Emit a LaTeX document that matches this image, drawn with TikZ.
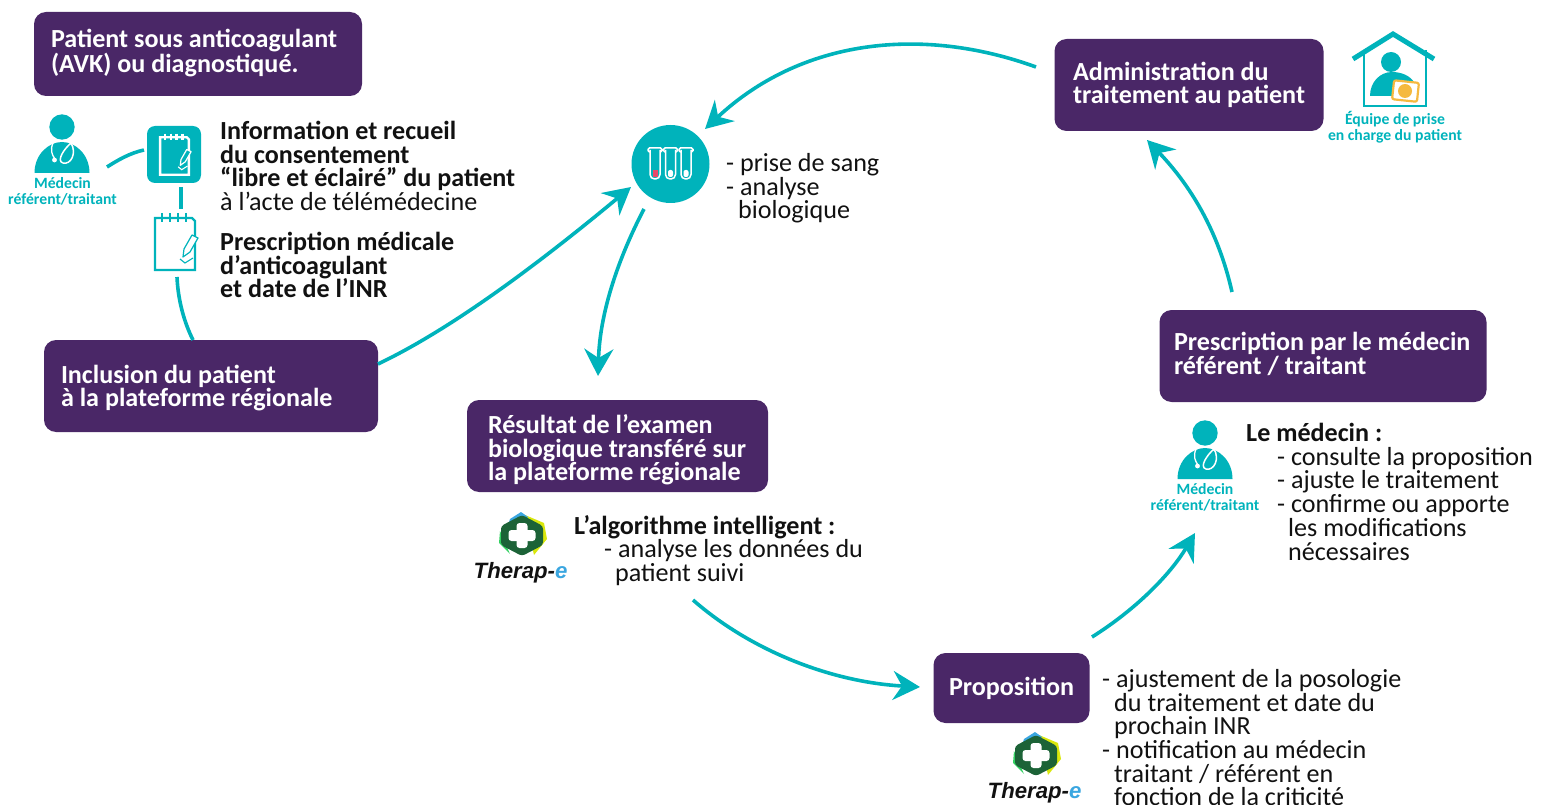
\documentclass[tikz,border=0pt]{standalone}
\usepackage{fontspec}
\setmainfont{Carlito}
\newfontfamily\logofont{Liberation Sans}
\usetikzlibrary{arrows.meta}
\definecolor{vio}{HTML}{4A2767}
\definecolor{tl}{HTML}{00B3BB}
\definecolor{ink}{HTML}{111111}
\definecolor{orng}{HTML}{F5B93F}
\definecolor{rose}{HTML}{E8486A}
\definecolor{logogreen}{HTML}{1C6337}
\definecolor{logoblue}{HTML}{3AA6E0}
\newcommand{\fs}{\fontsize{26.1}{23.7}\selectfont}
\newcommand{\padshape}[2]{%
  \draw[#1,line width=2.4pt,line join=miter] (-20,-26) -- (17,-26) -- (20,-23) -- (20,26) -- (-20,26) -- cycle;
  \foreach \k in {-13,-5,3,11} \draw[#1,line width=2.4pt] (\k,-31) -- (\k,-22);
  \draw[#1,fill=#2,line width=1.2pt,line join=round] (8,13) -- (9,5) -- (17,-9) -- (23,-6) -- (15,8) -- cycle;
  \draw[#1,line width=1.1pt] (5,15) -- (10,19) -- (18,14);
}
\tikzset{
  x=1pt,y=-1pt,
  box/.style={fill=vio,rounded corners=12pt,text=white,font=\fs\bfseries,align=flush left,inner xsep=0pt,inner ysep=0pt},
  txt/.style={anchor=north west,text=ink,font=\fs,align=left,inner sep=0pt},
  iconcap/.style={text=tl,font=\fontsize{15.7}{16}\selectfont\bfseries,align=center,inner sep=0pt},
  flow/.style={tl,line width=3.6pt,-{Stealth[length=27pt,width=29pt,inset=9pt]}},
  link/.style={tl,line width=3.6pt},
  doctor/.pic={
    \fill[tl] (0,0) circle (12.7);
    \fill[tl] (-27.5,46) .. controls (-27.5,27) and (-13,15) .. (0,15) .. controls (13,15) and (27.5,27) .. (27.5,46) -- cycle;
    \draw[white,line width=1.3pt] (-9,16) .. controls (-12,23) and (-10,28) .. (-7,32);
    \draw[white,line width=1.5pt] (9,16) .. controls (2,22) and (-6,34) .. (1,36) .. controls (9,38) and (15,26) .. (9,16);
    \fill[white] (-7.5,33) circle (2.4);
  },
  padlight/.pic={\padshape{white}{tl}},
  padteal/.pic={\padshape{tl}{white}},
  therape/.pic={
    \fill[yellow!85!green] (3,-21) -- (22,-13) -- (25,3) -- (12,19) -- cycle;
    \fill[logoblue] (-12,-17) -- (-1,-24) -- (6,-19) -- (-20,10) -- cycle;
    \fill[green!55!teal!80] (-22,-5) -- (-12,18) -- (-23,7) -- cycle;
    \fill[logogreen,rounded corners=3pt] (0,-21) -- (21,-10) -- (21,9) -- (0,20) -- (-21,9) -- (-21,-10) -- cycle;
    \fill[white,rounded corners=3pt] (-5.5,-13) rectangle (5.5,12);
    \fill[white,rounded corners=3pt] (-13.5,-6) rectangle (13.5,5);
    \node[inner sep=0pt,anchor=base west,font=\logofont\fontsize{22.2}{22}\selectfont\bfseries\itshape,text=ink] at (-48.5,42) {Therap-\textcolor{logoblue}{e}};
  },
}
\begin{document}
\begin{tikzpicture}
\useasboundingbox (0,0) rectangle (1542,805);

% boxes
\node[box,minimum width=328pt,minimum height=84pt,text width=294pt] (patient) at (198,54) {Patient sous anticoagulant\\(AVK) ou diagnostiqué.\par\vspace{2pt}};
\node[box,minimum width=334pt,minimum height=92pt,text width=300pt] (inclusion) at (211,386) {Inclusion du patient\\à la plateforme régionale\par\vspace{-4pt}};
\node[box,minimum width=301pt,minimum height=92pt,text width=259pt] (resultat) at (617.5,446) {Résultat de l’examen\\biologique transféré sur\\la plateforme régionale\par\vspace{-8pt}};
\node[box,minimum width=156pt,minimum height=70pt,text width=125pt] (proposition) at (1011.5,688) {Proposition};
\node[box,minimum width=327pt,minimum height=92pt,text width=298pt] (prescription) at (1323,356) {Prescription par le médecin\\référent / traitant\par\vspace{4pt}};
\node[box,minimum width=269pt,minimum height=92pt,text width=232pt] (administration) at (1189,85) {Administration du\\traitement au patient};

% free text
\node[txt] (consent) at (220,121) {\textbf{Information et recueil}\\\textbf{du consentement}\\\textbf{“libre et éclairé” du patient}\\à l’acte de télémédecine};
\node[txt] (presc) at (220,232) {\textbf{Prescription médicale}\\\textbf{d’anticoagulant}\\\textbf{et date de l’INR}};
\node[txt] (sang) at (726,153) {- prise de sang\\- analyse\\\hspace*{12pt}biologique};
\node[txt] (algo) at (574,515) {\textbf{L’algorithme intelligent :}\\\hspace*{30pt}- analyse les données du\\\hspace*{41pt}patient suivi};
\node[txt] (medtxt) at (1246,423) {\textbf{Le médecin :}\\\hspace*{31pt}- consulte la proposition\\\hspace*{31pt}- ajuste le traitement\\\hspace*{31pt}- confirme ou apporte\\\hspace*{42pt}les modifications\\\hspace*{42pt}nécessaires};
\node[txt] (proptxt) at (1102,669) {- ajustement de la posologie\\\hspace*{12pt}du traitement et date du\\\hspace*{12pt}prochain INR\\- notification au médecin\\\hspace*{12pt}traitant / référent en\\\hspace*{12pt}fonction de la criticité};

% doctors
\pic at (62,127) {doctor};
\node[iconcap] (doca) at (62.5,191) {Médecin\\référent/traitant};
\pic at (1205,433) {doctor};
\node[iconcap] (docb) at (1205,497) {Médecin\\référent/traitant};

% consent icons
\node[fill=tl,rounded corners=8pt,minimum width=54pt,minimum height=57pt,inner sep=0pt] (padA) at (174,154.5) {};
\pic[scale=0.72] at (174.5,156) {padlight};
\node[minimum width=44pt,minimum height=60pt,inner sep=0pt] (padB) at (175,244) {};
\pic at (175,244) {padteal};

% tubes
\node[fill=tl,circle,minimum size=78pt,inner sep=0pt] (tubes) at (670.5,164) {};
\foreach \tx in {655,670.5,686} {
  \draw[white,line width=1.5pt,rounded corners=1.5pt] (\tx-5,152) -- (\tx-7,152) -- (\tx-7,148) -- (\tx+7,148) -- (\tx+7,152) -- (\tx+5,152);
  \draw[white,line width=1.5pt,rounded corners=4.5pt] (\tx-5,150) -- (\tx-5,179) -- (\tx+5,179) -- (\tx+5,150);
}
\fill[white,rounded corners=2pt] (668,170) rectangle (673,177);
\fill[white,rounded corners=2pt] (683.5,170) rectangle (688.5,177);
\fill[rose] (652.5,170) rectangle (657.5,177);

% house
\draw[tl,line width=2.8pt] (1364,50) -- (1364,106) -- (1426,106) -- (1426,50);
\draw[tl,line width=5pt] (1353,59) -- (1393,34) -- (1434,59);
\fill[tl] (1391,62) circle (10);
\fill[tl] (1370,96) .. controls (1370,82) and (1380,72) .. (1392,72) .. controls (1402,72) and (1410,76) .. (1414,82) -- (1396,96) -- cycle;
\draw[orng,fill=white,line width=2.2pt,rounded corners=2pt,rotate around={-6:(1405,91)}] (1393,81.5) rectangle (1418,100.5);
\fill[orng] (1405,91) circle (7);
\node[iconcap] (team) at (1395,127) {Équipe de prise\\en charge du patient};

% logos
\pic at (522,536) {therape};
\pic at (1036,756) {therape};

% free ends
\coordinate (s1) at (378,364);
\coordinate (e1) at (631,187);
\coordinate (s2) at (1036,67);
\coordinate (e2) at (705,129);
\coordinate (s3) at (644,209);
\coordinate (e3) at (598,376);
\coordinate (s4) at (693,600);
\coordinate (e4) at (920,687);
\coordinate (s5) at (1092,637);
\coordinate (e5) at (1195,533);
\coordinate (s6) at (1232,292);
\coordinate (e6) at (1147,140);
\coordinate (l1a) at (107,167);
\coordinate (l1b) at (144,150);
\coordinate (l2a) at (181,187);
\coordinate (l2b) at (181,209);
\coordinate (l3a) at (177,277);
\coordinate (l3b) at (193,340);

% connectors
\draw[flow] (s1) .. controls (460,325) and (555,250) .. (e1);
\draw[flow] (s2) .. controls (920,25) and (800,40) .. (e2);
\draw[flow] (s3) .. controls (620,255) and (600,310) .. (e3);
\draw[flow] (s4) .. controls (750,650) and (830,682) .. (e4);
\draw[flow] (s5) .. controls (1135,610) and (1170,575) .. (e5);
\draw[flow] (s6) .. controls (1218,230) and (1190,185) .. (e6);
\draw[link] (l1a) .. controls (118,160) and (130,153) .. (l1b);
\draw[link] (l2a) -- (l2b);
\draw[link] (l3a) .. controls (178,300) and (184,322) .. (l3b);
\end{tikzpicture}
\end{document}
